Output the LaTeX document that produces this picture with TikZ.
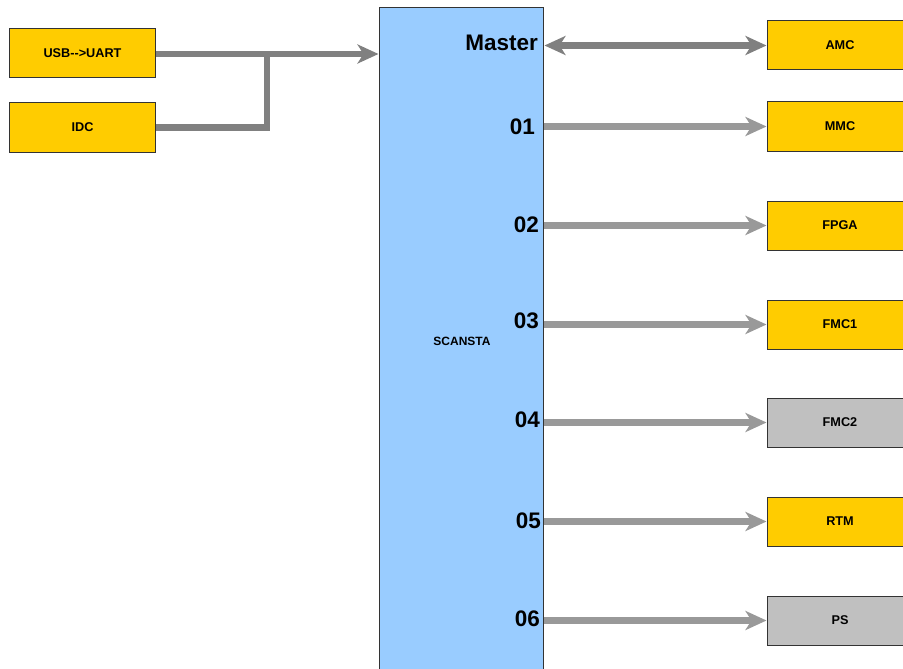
\documentclass[tikz,border=0pt]{standalone}
\usepackage{fontspec}
\setmainfont[Ligatures=NoCommon]{Liberation Sans}
\usetikzlibrary{arrows.meta}
\definecolor{boxyellow}{HTML}{FFCC00}
\definecolor{boxgray}{HTML}{C0C0C0}
\definecolor{mainblue}{HTML}{99CCFF}
\definecolor{darkline}{HTML}{808080}
\definecolor{lightline}{HTML}{999999}
\definecolor{boxborder}{HTML}{333333}
\tikzset{
  unitbox/.style={rectangle, draw=boxborder, line width=1pt, minimum width=146pt, minimum height=49pt, inner sep=0pt, font=\fontsize{12.7}{14}\selectfont\bfseries},
  ybox/.style={unitbox, fill=boxyellow},
  gbox/.style={unitbox, fill=boxgray},
  portlabel/.style={anchor=east, inner sep=0pt, font=\fontsize{22.5}{24}\selectfont\bfseries},
  tip/.style={-{Stealth[length=21pt, width=19pt, inset=6pt]}},
  darkconn/.style={draw=darkline, line width=6.5pt},
  lightconn/.style={draw=lightline, line width=6.5pt, tip}
}
\begin{document}
\begin{tikzpicture}[x=1pt, y=-1pt]
\fill[white] (0,0) rectangle (903,669);
\useasboundingbox (0,0) rectangle (903,669);
% main block
\node[rectangle, draw=boxborder, line width=1pt, fill=mainblue, minimum width=164pt, minimum height=690pt, inner sep=0pt] (scansta) at (461,353) {};
\node[font=\fontsize{12}{14}\selectfont\bfseries, inner sep=0pt] (scanstalabel) at (462,341) {SCANSTA};
% port labels
\node[portlabel] (pm) at (538,43) {Master};
\node[portlabel] (p1) at (535,127) {01};
\node[portlabel] (p2) at (539,225) {02};
\node[portlabel] (p3) at (539,321) {03};
\node[portlabel] (p4) at (540,420) {04};
\node[portlabel] (p5) at (541,521) {05};
\node[portlabel] (p6) at (540,619) {06};
% left boxes
\node[ybox] (usb) at (82.5,53.5) {USB-{}-{}>UART};
\node[ybox] (idc) at (82.5,127.5) {IDC};
% right boxes
\node[ybox] (amc) at (840,45.5) {AMC};
\node[ybox] (mmc) at (840,126.5) {MMC};
\node[ybox] (fpga) at (840,225.5) {FPGA};
\node[ybox] (fmc1) at (840,324.5) {FMC1};
\node[gbox] (fmc2) at (840,422.5) {FMC2};
\node[ybox] (rtm) at (840,521.5) {RTM};
\node[gbox] (ps) at (840,620.5) {PS};
% left connectors
\coordinate (join) at (267,54);
\draw[darkconn, line join=miter] (idc.east) -| (join);
\draw[darkconn, tip] (usb.east |- join) -- (scansta.west |- join);
% right connectors
\draw[darkconn, {Stealth[length=21pt, width=19pt, inset=6pt]}-{Stealth[length=21pt, width=19pt, inset=6pt]}] ([xshift=1pt]scansta.east |- amc.west) -- (amc.west);
\draw[lightconn] (scansta.east |- mmc.west) -- (mmc.west);
\draw[lightconn] (scansta.east |- fpga.west) -- (fpga.west);
\draw[lightconn] (scansta.east |- fmc1.west) -- (fmc1.west);
\draw[lightconn] (scansta.east |- fmc2.west) -- (fmc2.west);
\draw[lightconn] (scansta.east |- rtm.west) -- (rtm.west);
\draw[lightconn] (scansta.east |- ps.west) -- (ps.west);
\end{tikzpicture}
\end{document}
